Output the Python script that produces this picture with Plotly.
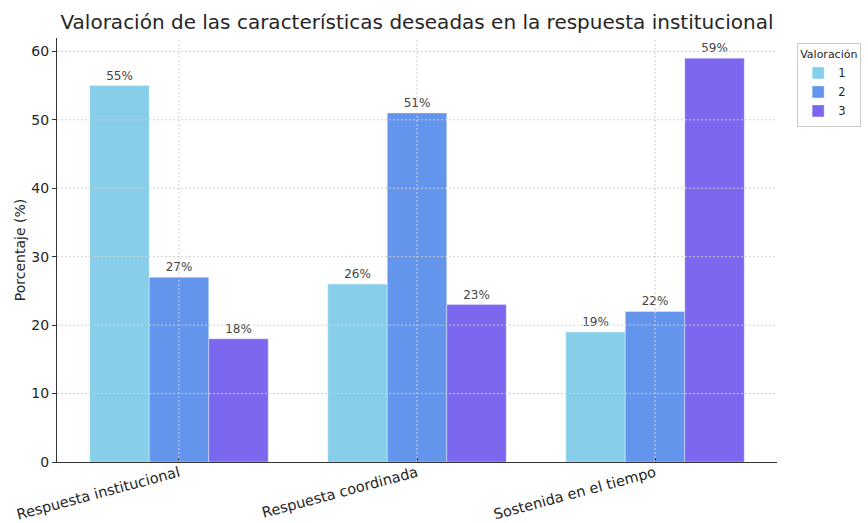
import plotly.graph_objects as go

categories = ["Respuesta institucional", "Respuesta coordinada", "Sostenida en el tiempo"]
series_names = ["1", "2", "3"]
valor_1 = [55, 26, 19]
valor_2 = [27, 51, 22]
valor_3 = [18, 23, 59]
y_ticks = [0, 10, 20, 30, 40, 50, 60]

colors = ["#87CEEB", "#6495ED", "#7B68EE"]
series_values = [valor_1, valor_2, valor_3]

fig = go.Figure()
for name, vals, col in zip(series_names, series_values, colors):
    fig.add_trace(go.Bar(
        x=categories, y=vals, name=name,
        marker=dict(color=col, line=dict(width=0.6, color="rgba(255,255,255,0.6)")),
        text=[f"{v}%" for v in vals], textposition="outside",
        textfont=dict(family="DejaVu Sans", size=12, color="#444444"),
        cliponaxis=False,
    ))

# dotted grid drawn over the bars
grid_color = "#cfcfcf"
shapes = []
for t in y_ticks[1:]:
    shapes.append(dict(type="line", xref="paper", yref="y", x0=0, x1=1, y0=t, y1=t,
                       line=dict(color=grid_color, width=1, dash="2px,2px"), layer="above"))
for i in range(len(categories)):
    shapes.append(dict(type="line", xref="x", yref="paper", x0=i, x1=i, y0=0, y1=1,
                       line=dict(color=grid_color, width=1, dash="2px,2px"), layer="above"))

fig.update_layout(
    width=868, height=523,
    margin=dict(l=57, r=91, t=38, b=61, autoexpand=False),
    paper_bgcolor="white", plot_bgcolor="white",
    barmode="group", bargap=0.25, bargroupgap=0,
    shapes=shapes,
    title=dict(text="Valoración de las características deseadas en la respuesta institucional",
               x=(57 + 360) / 868, xanchor="center", y=1 - 22 / 523, yanchor="middle",
               font=dict(family="DejaVu Sans", size=20, color="#262626")),
    font=dict(family="DejaVu Sans", color="#262626"),
    legend=dict(title=dict(text="Valoración", font=dict(size=11)),
                x=1.028, y=0.988, xanchor="left", yanchor="top",
                bordercolor="#cccccc", borderwidth=1, bgcolor="white",
                font=dict(size=11.5), itemwidth=30),
    showlegend=True,
)
fig.update_xaxes(
    range=[-0.5125, 2.5125], showgrid=False, showline=True, linecolor="#333333", linewidth=1.2,
    ticks="inside", ticklen=4, tickcolor="#333333", tickangle=-15, automargin=False,
    ticklabelstandoff=-4,
    tickfont=dict(size=14.5, color="#262626"),
)
fig.update_yaxes(
    range=[0, 61.95], tickvals=y_ticks, showgrid=False, zeroline=False,
    showline=True, linecolor="#333333", linewidth=1.2, automargin=False,
    ticks="outside", ticklen=4, tickcolor="#333333",
    tickfont=dict(size=14, color="#262626"),
    title=dict(text="Porcentaje (%)", font=dict(size=14, color="#262626"), standoff=2),
)

fig.write_html("out.html")
